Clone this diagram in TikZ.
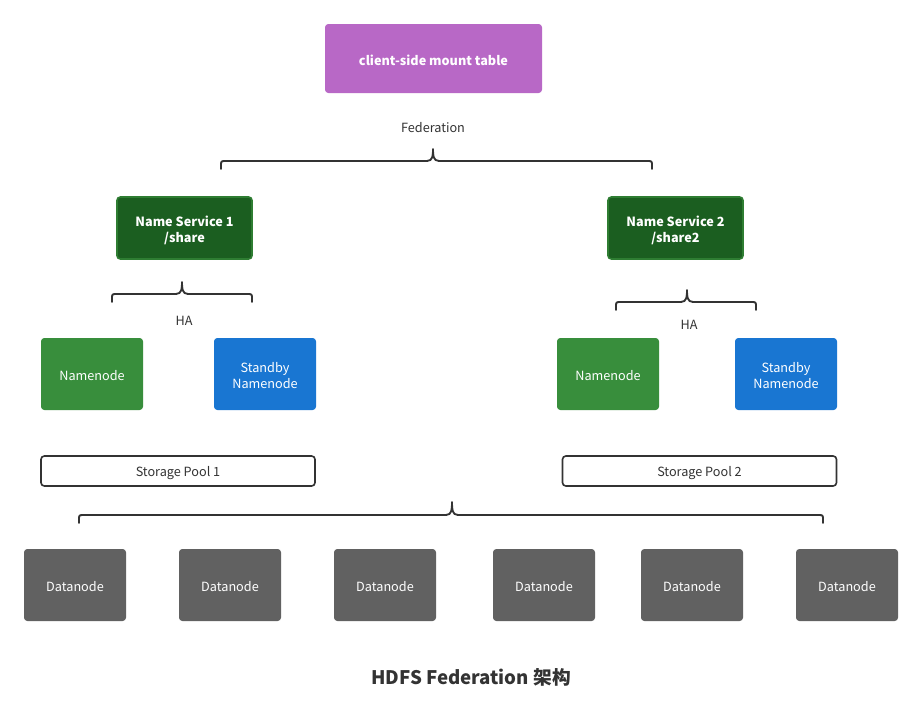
\documentclass[tikz,border=0pt]{standalone}
\usepackage{fontspec}
\setmainfont{Noto Sans CJK SC}
\definecolor{mountc}{HTML}{B868C6}
\definecolor{nsfill}{HTML}{1B5E20}
\definecolor{nsdraw}{HTML}{2E7D32}
\definecolor{nnfill}{HTML}{388E3C}
\definecolor{sbfill}{HTML}{1976D2}
\definecolor{dnfill}{HTML}{616161}
\definecolor{ink}{HTML}{333333}
\begin{document}
\begin{tikzpicture}[x=0.75pt,y=-0.75pt,
  box/.style={rectangle,rounded corners=2.5pt,inner sep=0pt,outer sep=0pt,align=center,text=white,text height=10pt,font=\fontsize{9.5}{11.5}\selectfont},
  mountbox/.style={box,fill=mountc,minimum width=162.75pt,minimum height=51.75pt,font=\fontsize{9.5}{11.5}\selectfont\bfseries},
  nsbox/.style={box,fill=nsfill,draw=nsdraw,line width=1.2pt,minimum width=101.25pt,minimum height=46.5pt,text height=22.8pt,font=\fontsize{9.5}{12}\selectfont\bfseries},
  nnbox/.style={box,fill=nnfill,minimum width=76.5pt,minimum height=54pt},
  sbbox/.style={box,fill=sbfill,minimum width=76.5pt,minimum height=54pt,text height=21.2pt},
  dnbox/.style={box,fill=dnfill,minimum width=76.5pt,minimum height=54pt},
  poolbox/.style={box,fill=white,draw=ink,line width=1.2pt,text=ink,minimum width=205.5pt,minimum height=22.5pt},
  lbl/.style={inner sep=0pt,text=ink,text height=8.8pt,font=\fontsize{9.5}{11.5}\selectfont},
  bracket/.style={draw=ink,line width=1.4pt,line cap=round,line join=round}]
\useasboundingbox (0,0) rectangle (922,718);
\fill[white] (0,0) rectangle (922,718);

\node[mountbox] (mount) at (433.5,58.5) {client-side mount table};
\node[lbl] (fed) at (433,127) {Federation};

\node[nsbox] (ns1) at (184.5,228) {Name Service 1\\/share};
\node[nsbox] (ns2) at (675.5,228) {Name Service 2\\/share2};

\node[lbl] (ha1) at (184,320) {HA};
\node[lbl] (ha2) at (689,324) {HA};

\node[nnbox] (nn1) at (92,374) {Namenode};
\node[sbbox] (sb1) at (265,374) {Standby\\Namenode};
\node[nnbox] (nn2) at (608,374) {Namenode};
\node[sbbox] (sb2) at (786,374) {Standby\\Namenode};

\node[poolbox] (pool1) at (178,471) {Storage Pool 1};
\node[poolbox] (pool2) at (699.5,471) {Storage Pool 2};

\foreach \i/\x in {1/75,2/230,3/385,4/544,5/692,6/847}
  \node[dnbox] (dn\i) at (\x,585) {Datanode};

\node[inner sep=0pt,text=ink,font=\fontsize{14}{16}\selectfont\bfseries] (title) at (471,677) {HDFS Federation 架构};

% Federation brace
\draw[bracket] (221,169) -- (221,166) .. controls (221,161) .. (226,161) -- (427,161)
  .. controls (433,161) and (433,155) .. (433,149)
  .. controls (433,155) and (433,161) .. (439,161) -- (647,161)
  .. controls (652,161) .. (652,166) -- (652,169);
% HA brace 1
\draw[bracket] (112,302) -- (112,299) .. controls (112,294) .. (117,294) -- (176,294)
  .. controls (182,294) and (182,288) .. (182,282)
  .. controls (182,288) and (182,294) .. (188,294) -- (247,294)
  .. controls (252,294) .. (252,299) -- (252,302);
% HA brace 2
\draw[bracket] (616,310) -- (616,307) .. controls (616,302) .. (621,302) -- (681,302)
  .. controls (687,302) and (687,296) .. (687,290)
  .. controls (687,296) and (687,302) .. (693,302) -- (751,302)
  .. controls (756,302) .. (756,307) -- (756,310);
% Bottom brace
\draw[bracket] (79,523) -- (79,520) .. controls (79,515) .. (84,515) -- (446,515)
  .. controls (452,515) and (452,509) .. (452,502)
  .. controls (452,509) and (452,515) .. (458,515) -- (818,515)
  .. controls (823,515) .. (823,520) -- (823,523);
\end{tikzpicture}
\end{document}
